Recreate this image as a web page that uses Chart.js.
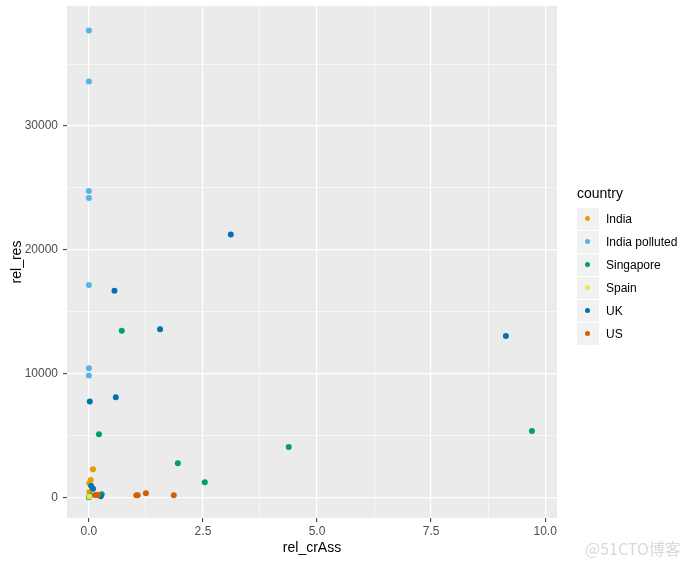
<!DOCTYPE html>
<html>
<head>
  <meta charset="UTF-8">
  <title>rel_res vs rel_crAss</title>
  <script src="https://cdn.jsdelivr.net/npm/chart.js"></script>
  <style>
    body {
      margin: 0;
      padding: 0;
      background: #ffffff;
      font-family: "Liberation Sans", Arial, sans-serif;
    }
    #wrap {
      position: relative;
      width: 695px;
      height: 565px;
    }
    #legend {
      position: absolute;
      left: 577px;
      top: 185px;
      color: #000;
    }
    #legend .title {
      font-size: 14px;
      margin-bottom: 6px;
    }
    #legend .row {
      height: 23px;
      display: flex;
      align-items: center;
    }
    #legend .key {
      width: 22px;
      height: 22px;
      background: #f2f2f2;
      position: relative;
      margin-right: 7px;
    }
    #legend .dot {
      position: absolute;
      left: 8px;
      top: 8px;
      width: 5px;
      height: 5px;
      border-radius: 50%;
    }
    #legend .lbl {
      font-size: 12px;
    }
    #mark {
      position: absolute;
      left: 585px;
      top: 536px;
      font-size: 16px;
      color: #d9d9d9;
      font-family: "Noto Sans CJK SC", sans-serif;
    }
  </style>
</head>
<body>
  <div id="wrap">
    <canvas id="scatterChart" width="695" height="565"></canvas>
    <div id="legend"></div>
    <div id="mark">@51CTO博客</div>
  </div>

  <script>
    // values
    var countries = ['India', 'India polluted', 'Singapore', 'Spain', 'UK', 'US'];
    var colors = ['#E69F00', '#56B4E9', '#009E73', '#F0E442', '#0072B2', '#D55E00'];

    var indiaX = [0.09, 0.04, 0.01, 0.01];
    var indiaY = [2260, 1400, 1130, 430];

    var pollutedX = [0, 0, 0, 0, 0, 0, 0];
    var pollutedY = [37720, 33600, 24740, 24180, 17150, 10420, 9850];

    var singaporeX = [0.72, 0.22, 1.95, 2.54, 4.38, 9.71, 0.28, 0.01, 0.0, 0.03];
    var singaporeY = [13450, 5100, 2750, 1210, 4070, 5360, 240, 80, 0, 150];

    var spainX = [0.01];
    var spainY = [60];

    var ukX = [3.11, 0.56, 1.56, 9.14, 0.59, 0.02, 0.05, 0.09, 0.26];
    var ukY = [21240, 16680, 13570, 13030, 8080, 7750, 910, 690, 80];

    var usX = [1.04, 1.07, 1.25, 1.86, 0.14, 0.20];
    var usY = [160, 160, 320, 160, 190, 190];

    var xTicks = [0, 1.25, 2.5, 3.75, 5, 6.25, 7.5, 8.75, 10];
    var xMajor = [0, 2.5, 5, 7.5, 10];
    var xLabels = ['0.0', '2.5', '5.0', '7.5', '10.0'];
    var yTicks = [0, 5000, 10000, 15000, 20000, 25000, 30000, 35000];
    var yMajor = [0, 10000, 20000, 30000];
    var yLabels = ['0', '10000', '20000', '30000'];

    var xs = [indiaX, pollutedX, singaporeX, spainX, ukX, usX];
    var ys = [indiaY, pollutedY, singaporeY, spainY, ukY, usY];

    function toPoints(x, y) {
      return x.map(function (v, i) { return { x: v, y: y[i] }; });
    }

    var datasets = countries.map(function (name, i) {
      return {
        label: name,
        data: toPoints(xs[i], ys[i]),
        backgroundColor: colors[i],
        borderColor: colors[i],
        pointRadius: 3,
        pointBorderWidth: 0,
        order: countries.length - i
      };
    });

    // grey panel behind the plot
    var panelBg = {
      id: 'panelBg',
      beforeDraw: function (chart) {
        var a = chart.chartArea;
        var c = chart.ctx;
        c.save();
        c.fillStyle = '#EBEBEB';
        c.fillRect(a.left, a.top, a.right - a.left, a.bottom - a.top);
        c.restore();
      }
    };

    function isMajor(list, v) {
      return list.indexOf(v) >= 0;
    }

    var ctx = document.getElementById('scatterChart').getContext('2d');
    var scatterChart = new Chart(ctx, {
      type: 'scatter',
      data: { datasets: datasets },
      plugins: [panelBg],
      options: {
        responsive: false,
        animation: false,
        layout: { padding: { left: 9, right: 138, top: 6, bottom: 8 } },
        plugins: {
          legend: { display: false },
          tooltip: { enabled: false }
        },
        scales: {
          x: {
            type: 'linear',
            min: -0.48,
            max: 10.26,
            afterBuildTicks: function (s) {
              s.ticks = xTicks.map(function (v) { return { value: v }; });
            },
            afterFit: function (s) {
              s.height = 39;
              s.paddingLeft = 0;
              s.paddingRight = 0;
            },
            border: { display: false },
            grid: {
              color: '#ffffff',
              lineWidth: function (c) { return isMajor(xMajor, c.tick.value) ? 1.2 : 0.6; },
              tickColor: function (c) { return isMajor(xMajor, c.tick.value) ? '#333333' : 'rgba(0,0,0,0)'; },
              tickLength: 4,
              tickWidth: 1
            },
            ticks: {
              autoSkip: false,
              maxRotation: 0,
              padding: 2,
              color: '#4D4D4D',
              font: { family: 'Liberation Sans', size: 12 },
              callback: function (v) {
                var k = xMajor.indexOf(v);
                return k >= 0 ? xLabels[k] : '';
              }
            },
            title: {
              display: true,
              text: 'rel_crAss',
              color: '#000000',
              padding: 0,
              font: { family: 'Liberation Sans', size: 14 }
            }
          },
          y: {
            type: 'linear',
            min: -1670,
            max: 39690,
            afterBuildTicks: function (s) {
              s.ticks = yTicks.map(function (v) { return { value: v }; });
            },
            afterFit: function (s) {
              s.width = 58;
              s.paddingTop = 0;
              s.paddingBottom = 0;
            },
            border: { display: false },
            grid: {
              color: '#ffffff',
              lineWidth: function (c) { return isMajor(yMajor, c.tick.value) ? 1.2 : 0.6; },
              tickColor: function (c) { return isMajor(yMajor, c.tick.value) ? '#333333' : 'rgba(0,0,0,0)'; },
              tickLength: 4,
              tickWidth: 1
            },
            ticks: {
              autoSkip: false,
              padding: 5,
              color: '#4D4D4D',
              font: { family: 'Liberation Sans', size: 12 },
              callback: function (v) {
                var k = yMajor.indexOf(v);
                return k >= 0 ? yLabels[k] : '';
              }
            },
            title: {
              display: true,
              text: 'rel_res',
              color: '#000000',
              padding: 0,
              font: { family: 'Liberation Sans', size: 14 }
            }
          }
        }
      }
    });

    // legend like ggplot's guide
    var legendHtml = '<div class="title">country</div>';
    countries.forEach(function (name, i) {
      legendHtml += '<div class="row"><div class="key"><div class="dot" style="background:' +
        colors[i] + '"></div></div><div class="lbl">' + name + '</div></div>';
    });
    document.getElementById('legend').innerHTML = legendHtml;
  </script>
</body>
</html>
